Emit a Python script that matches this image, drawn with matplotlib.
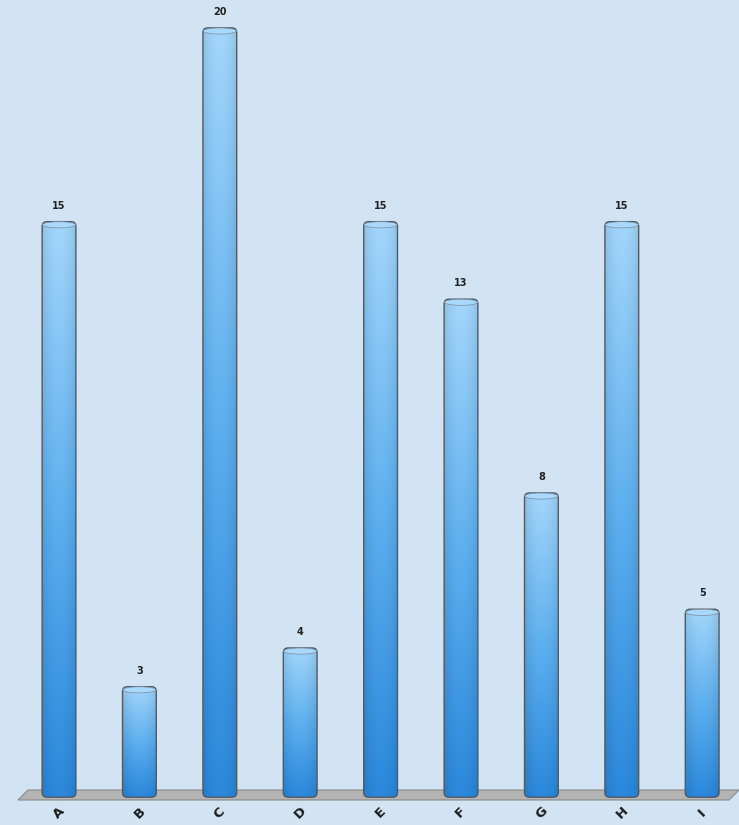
import numpy as np
import matplotlib
matplotlib.use("Agg")
import matplotlib.pyplot as plt
from matplotlib.patches import FancyBboxPatch, Polygon, Ellipse
from matplotlib.colors import LinearSegmentedColormap

categories = ["A", "B", "C", "D", "E", "F", "G", "H", "I"]
values = [15, 3, 20, 4, 15, 13, 8, 15, 5]

BG = "#d2e4f4"
fig = plt.figure(figsize=(7.39, 8.25), dpi=100, facecolor=BG)
ax = fig.add_axes([0, 0, 1, 1])
ax.set_facecolor(BG)
ax.set_xlim(-0.734, 8.458)
ax.set_ylim(-0.568, 20.72)
ax.axis("off")

# floor (parallelogram) in axes coordinates
floor = Polygon([(18/739, 1-800/825), (28/739, 1-790/825), (739/739, 1-790/825), (729/739, 1-800/825)],
                closed=True, transform=ax.transAxes, facecolor="#b4b4b4", edgecolor="#8a8a8a",
                lw=0.8, zorder=1)
ax.add_patch(floor)

cmap = LinearSegmentedColormap.from_list("bar", ["#2b88dc", "#5eb0f0", "#a3d6fc"])
w = 0.42
bottom = 0.15
grad = np.linspace(0, 1, 256).reshape(-1, 1)
hshade = 1 - 0.10 * np.abs(np.linspace(-1, 1, 64)) ** 2
img = grad * np.ones((1, 64))
for i, v in enumerate(values):
    x0 = i - w / 2
    patch = FancyBboxPatch((x0, bottom), w, v - bottom,
                           boxstyle="round,pad=0,rounding_size=0.06",
                           mutation_aspect=2.0,
                           facecolor="none", edgecolor="#4c5a68", lw=1.0, zorder=4)
    ax.add_patch(patch)
    rgba = cmap(img)
    rgba[..., :3] *= hshade[None, :, None]
    im = ax.imshow(rgba, extent=[x0, x0 + w, bottom, v], origin="lower",
                   aspect="auto", zorder=3, interpolation="bilinear")
    im.set_clip_path(patch)
    cap = Ellipse((i, v - 0.08), w * 0.98, 0.16, facecolor="#a8d8fc",
                  edgecolor="#7a8a98", lw=0.5, zorder=5)
    ax.add_patch(cap)
    ax.text(i, v + 0.28, str(v), ha="center", va="bottom", fontsize=7,
            fontweight="bold", color="#222222", zorder=6)
    ax.text(i, -0.25, categories[i], ha="center", va="center", rotation=45,
            fontsize=9.5, fontweight="bold", color="#1a1a1a", zorder=6)

fig.savefig("out.png", dpi=100, facecolor=BG)
